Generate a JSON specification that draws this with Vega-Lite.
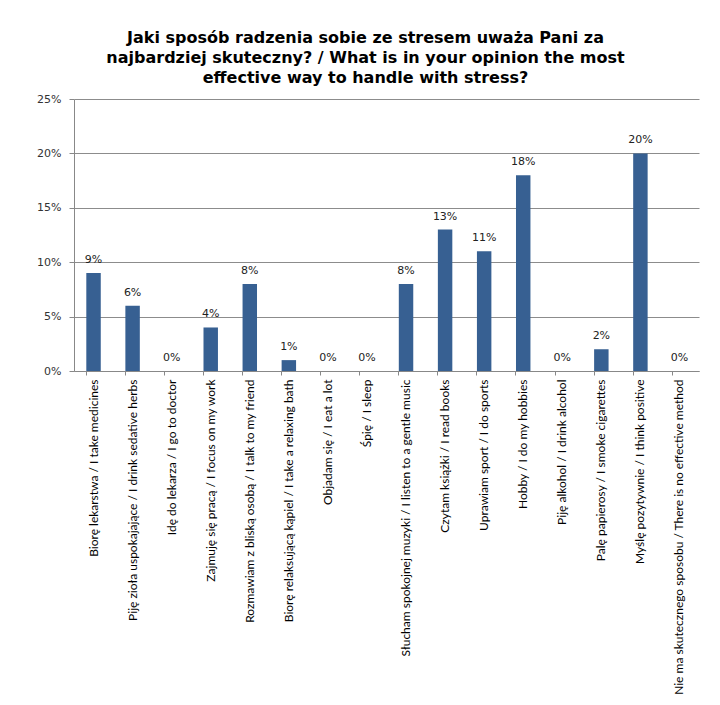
{
  "$schema": "https://vega.github.io/schema/vega-lite/v6.json",
  "autosize": {"type": "none"},
  "width": 625,
  "height": 272,
  "padding": {"left": 74, "top": 99, "right": 21, "bottom": 334},
  "background": "white",
  "title": {
    "text": ["Jaki sposób radzenia sobie ze stresem uważa Pani za", "najbardziej skuteczny? / What is in your opinion the most", "effective way to handle with stress?"],
    "font": "DejaVu Sans",
    "fontSize": 16,
    "fontWeight": "bold",
    "color": "#000000",
    "lineHeight": 20,
    "offset": 7,
    "anchor": "middle",
    "dx": -21
  },
  "config": {
    "view": {"stroke": null},
    "font": "Lato"
  },
  "data": {
    "values": [
      {"label": "Biorę lekarstwa / I take medicines", "value": 0.09},
      {"label": "Piję zioła uspokajające / I drink sedative herbs", "value": 0.06},
      {"label": "Idę do lekarza / I go to doctor", "value": 0.0},
      {"label": "Zajmuję się pracą / I focus on my work", "value": 0.04},
      {"label": "Rozmawiam z bliską osobą / I talk to my friend", "value": 0.08},
      {"label": "Biorę relaksującą kąpiel / I take a relaxing bath", "value": 0.01},
      {"label": "Objadam się / I eat a lot", "value": 0.0},
      {"label": "Śpię / I sleep", "value": 0.0},
      {"label": "Słucham spokojnej muzyki / I listen to a gentle music", "value": 0.08},
      {"label": "Czytam książki / I read books", "value": 0.13},
      {"label": "Uprawiam sport / I do sports", "value": 0.11},
      {"label": "Hobby / I do my hobbies", "value": 0.18},
      {"label": "Piję alkohol / I drink alcohol", "value": 0.0},
      {"label": "Palę papierosy / I smoke cigarettes", "value": 0.02},
      {"label": "Myślę pozytywnie / I think positive", "value": 0.20},
      {"label": "Nie ma skutecznego sposobu / There is no effective method", "value": 0.0}
    ]
  },
  "encoding": {
    "x": {
      "field": "label",
      "type": "nominal",
      "sort": null,
      "scale": {"paddingInner": 0.63, "paddingOuter": 0.315},
      "axis": {
        "title": null,
        "labelAngle": -90,
        "labelFont": "Lato",
        "labelFontSize": 12,
        "labelColor": "#000000",
        "labelLimit": 400,
        "labelPadding": 4,
        "bandPosition": 0,
        "tickColor": "#888888",
        "tickSize": 4,
        "domainColor": "#888888",
        "grid": false
      }
    },
    "y": {
      "field": "value",
      "type": "quantitative",
      "scale": {"domain": [0, 0.25]},
      "axis": {
        "title": null,
        "values": [0, 0.05, 0.1, 0.15, 0.2, 0.25],
        "format": ".0%",
        "labelFont": "DejaVu Sans",
        "labelFontSize": 11,
        "labelColor": "#333333",
        "labelPadding": 8,
        "tickColor": "#888888",
        "tickSize": 5,
        "domainColor": "#888888",
        "gridColor": "#8c8c8c",
        "gridWidth": 1
      }
    }
  },
  "layer": [
    {"mark": {"type": "bar", "color": "#376092"}},
    {
      "mark": {"type": "text", "dy": -13, "font": "DejaVu Sans", "fontSize": 11, "color": "#222222"},
      "encoding": {"text": {"field": "value", "type": "quantitative", "format": ".0%"}}
    }
  ]
}
